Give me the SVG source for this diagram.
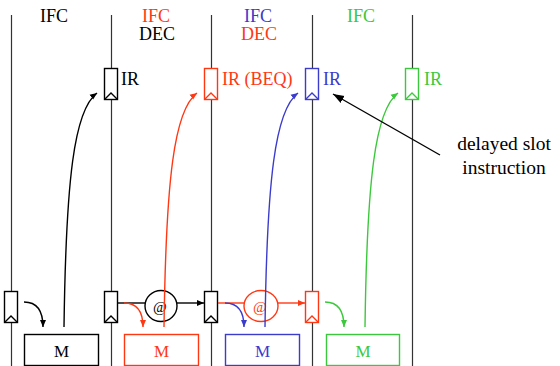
<svg xmlns="http://www.w3.org/2000/svg" width="560" height="366" viewBox="0 0 560 366">
<defs>
<style>
.t{font-family:"Liberation Serif","Times New Roman",serif;font-size:18px}
.c{text-anchor:middle}
.k{fill:#000}.r{fill:#ff3814}.b{fill:#3b3bcc}.g{fill:#3cc83c}
.box{fill:#fff;stroke-width:1.4}
.ln{fill:none;stroke-width:1.4}
.vl{stroke:#333;stroke-width:1.2}
</style>
<marker id="ak" markerWidth="8" markerHeight="8" refX="7" refY="4" orient="auto" markerUnits="userSpaceOnUse"><path d="M0,1 L7,4 L0,7 z" fill="#000"/></marker>
<marker id="ar" markerWidth="8" markerHeight="8" refX="7" refY="4" orient="auto" markerUnits="userSpaceOnUse"><path d="M0,1 L7,4 L0,7 z" fill="#ff3814"/></marker>
<marker id="ab" markerWidth="8" markerHeight="8" refX="7" refY="4" orient="auto" markerUnits="userSpaceOnUse"><path d="M0,1 L7,4 L0,7 z" fill="#3b3bcc"/></marker>
<marker id="ag" markerWidth="8" markerHeight="8" refX="7" refY="4" orient="auto" markerUnits="userSpaceOnUse"><path d="M0,1 L7,4 L0,7 z" fill="#3cc83c"/></marker>
<marker id="ak2" markerWidth="12" markerHeight="10" refX="11" refY="5" orient="auto" markerUnits="userSpaceOnUse"><path d="M0,1 L11,5 L0,9 z" fill="#000"/></marker>
</defs>
<rect width="560" height="366" fill="#fff"/>
<g id="stage-lines">
<line class="vl" x1="11.5" y1="15" x2="11.5" y2="366"/>
<line class="vl" x1="111.5" y1="15" x2="111.5" y2="366"/>
<line class="vl" x1="211.5" y1="15" x2="211.5" y2="366"/>
<line class="vl" x1="312.5" y1="15" x2="312.5" y2="366"/>
<line class="vl" x1="412.5" y1="15" x2="412.5" y2="366"/>
</g>
<g id="labels" class="t">
<text class="c k" x="54" y="22">IFC</text>
<text class="c r" x="156" y="22">IFC</text>
<text class="c k" x="157" y="40">DEC</text>
<text class="c b" x="258" y="22">IFC</text>
<text class="c r" x="259" y="40">DEC</text>
<text class="c g" x="361" y="22">IFC</text>
<text class="c k" x="504" y="150" style="font-size:19.5px">delayed slot</text>
<text class="c k" x="504" y="174" style="font-size:19.5px">instruction</text>
</g>
<g id="ir1"><rect class="box" x="104.5" y="68.5" width="13" height="31" stroke="#000"/><polyline class="ln" points="105,99 111,93 117,99" stroke="#000"/><text class="t k" x="121" y="85">IR</text></g>
<g id="ir2"><rect class="box" x="204.5" y="68.5" width="13" height="31" stroke="#ff3814"/><polyline class="ln" points="205,99 211,93 217,99" stroke="#ff3814"/><text class="t r" x="222" y="85">IR (BEQ)</text></g>
<g id="ir3"><rect class="box" x="305.5" y="68.5" width="13" height="31" stroke="#3b3bcc"/><polyline class="ln" points="306,99 312,93 318,99" stroke="#3b3bcc"/><text class="t b" x="323" y="85">IR</text></g>
<g id="ir4"><rect class="box" x="405.5" y="68.5" width="13" height="31" stroke="#3cc83c"/><polyline class="ln" points="406,99 412,93 418,99" stroke="#3cc83c"/><text class="t g" x="424" y="85">IR</text></g>
<g id="reg1"><rect class="box" x="4.5" y="291.5" width="13" height="31" stroke="#000"/><polyline class="ln" points="5,322 11,316 17,322" stroke="#000"/></g>
<g id="reg2"><rect class="box" x="104.5" y="291.5" width="13" height="31" stroke="#000"/><polyline class="ln" points="105,322 111,316 117,322" stroke="#000"/></g>
<g id="reg3"><rect class="box" x="204.5" y="291.5" width="13" height="31" stroke="#000"/><polyline class="ln" points="205,322 211,316 217,322" stroke="#000"/></g>
<g id="reg4"><rect class="box" x="305.5" y="291.5" width="13" height="31" stroke="#ff3814"/><polyline class="ln" points="306,322 312,316 318,322" stroke="#ff3814"/></g>
<g id="m1"><rect class="box" x="24.5" y="334.5" width="74" height="31" stroke="#000"/><text class="t c k" x="61.5" y="357" style="font-size:17px">M</text></g>
<g id="m2"><rect class="box" x="124.5" y="334.5" width="74" height="31" stroke="#ff3814"/><text class="t c r" x="161.5" y="357" style="font-size:17px">M</text></g>
<g id="m3"><rect class="box" x="225.5" y="334.5" width="74" height="31" stroke="#3b3bcc"/><text class="t c b" x="262.5" y="357" style="font-size:17px">M</text></g>
<g id="m4"><rect class="box" x="326.5" y="334.5" width="73" height="31" stroke="#3cc83c"/><text class="t c g" x="363" y="357" style="font-size:17px">M</text></g>
<g id="adder1"><ellipse class="ln" cx="161" cy="306" rx="16" ry="15.5" stroke="#000"/><text class="t c k" x="160" y="312" style="font-size:15px">@</text></g>
<g id="adder2"><ellipse class="ln" cx="261" cy="306" rx="17" ry="15.5" stroke="#ff3814"/><text class="t c r" x="260" y="312" style="font-size:15px">@</text></g>
<g id="connectors">
<path class="ln" stroke="#000" d="M118,303 H145.5"/>
<path class="ln" stroke="#000" d="M177,303 H204" marker-end="url(#ak)"/>
<path class="ln" stroke="#ff3814" d="M218,303 H245"/>
<path class="ln" stroke="#ff3814" d="M278,303 H305" marker-end="url(#ar)"/>
<path class="ln" stroke="#000" d="M24,302 C36,302 43,310 43,327" marker-end="url(#ak)"/>
<path class="ln" stroke="#ff3814" d="M124,303 C136,303 143,311 143,327" marker-end="url(#ar)"/>
<path class="ln" stroke="#3b3bcc" d="M225,303 C237,303 244,311 244,327" marker-end="url(#ab)"/>
<path class="ln" stroke="#3cc83c" d="M325,302 C337,302 344,310 344,327" marker-end="url(#ag)"/>
<path class="ln" stroke="#000" d="M64,327 C66,180 74,110 97,93" marker-end="url(#ak)"/>
<path class="ln" stroke="#ff3814" d="M164,327 C166,180 174,110 197,93" marker-end="url(#ar)"/>
<path class="ln" stroke="#3b3bcc" d="M265,327 C267,180 275,110 298,93" marker-end="url(#ab)"/>
<path class="ln" stroke="#3cc83c" d="M365,327 C367,180 375,110 398,93" marker-end="url(#ag)"/>
<path class="ln" stroke="#000" d="M440,155 L333,94" marker-end="url(#ak2)"/>
</g>
</svg>
